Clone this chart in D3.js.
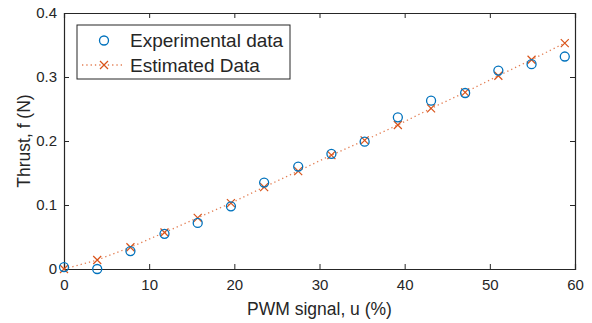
<!DOCTYPE html>
<html>
<head>
<meta charset="utf-8">
<script src="https://cdn.jsdelivr.net/npm/d3@7"></script>
<style>
  body { margin: 0; background: #fff; }
  svg text { font-family: "Liberation Sans", Arial, sans-serif; fill: #262626; }
</style>
</head>
<body>
<div class="chart"></div>
<script>
// data
var pwm = [0, 3.9, 7.8, 11.8, 15.7, 19.6, 23.5, 27.5, 31.4, 35.3, 39.2, 43.1, 47.1, 51.0, 54.9, 58.8];
var experimental = [0.003, 0.0, 0.028, 0.055, 0.072, 0.098, 0.135, 0.160, 0.180, 0.199, 0.237, 0.263, 0.275, 0.310, 0.320, 0.332];
var estimated = [0.0, 0.014, 0.034, 0.057, 0.080, 0.103, 0.128, 0.153, 0.178, 0.201, 0.225, 0.251, 0.276, 0.302, 0.327, 0.353];
var xTicks = [0, 10, 20, 30, 40, 50, 60];
var yTicks = [0, 0.1, 0.2, 0.3, 0.4];

var svgWidth = 592, svgHeight = 323;
var margin = { top: 13, right: 17, bottom: 54, left: 64 };
var width = svgWidth - margin.left - margin.right;
var height = svgHeight - margin.top - margin.bottom;

var axisColor = "#262626";
var blue = "#0072BD";
var orange = "#D95319";

var svg = d3.select(".chart").append("svg")
    .attr("width", svgWidth)
    .attr("height", svgHeight);

var chartGroup = svg.append("g")
    .attr("transform", `translate(${margin.left}, ${margin.top})`);

var xScale = d3.scaleLinear().domain([0, 60]).range([0, width]);
var yScale = d3.scaleLinear().domain([0, 0.4]).range([height, 0]);

// axes (ticks pointing inward, box on)
var bottomAxis = d3.axisBottom(xScale).tickValues(xTicks).tickSize(-5).tickPadding(10).tickFormat(d3.format("d"));
var leftAxis = d3.axisLeft(yScale).tickValues(yTicks).tickSize(-5).tickPadding(7)
    .tickFormat(d => d === 0 ? "0" : d3.format(".1f")(d));
var topAxis = d3.axisTop(xScale).tickValues(xTicks).tickSize(-5).tickFormat("");
var rightAxis = d3.axisRight(yScale).tickValues(yTicks).tickSize(-5).tickFormat("");

function styleAxis(g) {
    g.select(".domain").attr("stroke", axisColor).attr("stroke-width", 1.2);
    g.selectAll(".tick line").attr("stroke", axisColor).attr("stroke-width", 1);
    g.selectAll(".tick text").attr("fill", axisColor).style("font-size", "15px")
        .style("font-family", "'Liberation Sans', Arial, sans-serif");
}

chartGroup.append("g").attr("transform", `translate(0, ${height})`).call(bottomAxis).call(styleAxis);
chartGroup.append("g").call(leftAxis).call(styleAxis);
chartGroup.append("g").call(topAxis).call(styleAxis);
chartGroup.append("g").attr("transform", `translate(${width}, 0)`).call(rightAxis).call(styleAxis);

// estimated data: dotted line with crosses
var line = d3.line()
    .x((d, i) => xScale(pwm[i]))
    .y(d => yScale(d));

chartGroup.append("path")
    .datum(estimated)
    .attr("d", line)
    .attr("fill", "none")
    .attr("stroke", orange)
    .attr("stroke-opacity", 0.75)
    .attr("stroke-width", 1.3)
    .attr("stroke-dasharray", "1.3,3");

var cross = 4;
function drawCross(g, cx, cy) {
    g.append("path")
        .attr("d", `M${cx - cross},${cy - cross}L${cx + cross},${cy + cross}M${cx - cross},${cy + cross}L${cx + cross},${cy - cross}`)
        .attr("stroke", orange)
        .attr("stroke-width", 1.2)
        .attr("fill", "none");
}
estimated.forEach(function (d, i) {
    drawCross(chartGroup, xScale(pwm[i]), yScale(d));
});

// experimental data: open circles
chartGroup.selectAll("circle.exp")
    .data(experimental)
    .enter()
    .append("circle")
    .attr("class", "exp")
    .attr("cx", (d, i) => xScale(pwm[i]))
    .attr("cy", d => yScale(d))
    .attr("r", 4.5)
    .attr("fill", "none")
    .attr("stroke", blue)
    .attr("stroke-width", 1.3);

// axis labels
svg.append("text")
    .attr("x", margin.left + width / 2)
    .attr("y", 315)
    .attr("text-anchor", "middle")
    .style("font-size", "17.5px")
    .text("PWM signal, u (%)");

svg.append("text")
    .attr("transform", `translate(30, ${margin.top + height / 2}) rotate(-90)`)
    .attr("text-anchor", "middle")
    .style("font-size", "17.5px")
    .text("Thrust, f (N)");

// legend
var legend = svg.append("g").attr("transform", "translate(77, 25)");
legend.append("rect")
    .attr("width", 213)
    .attr("height", 54)
    .attr("fill", "#fff")
    .attr("stroke", axisColor)
    .attr("stroke-width", 1);

legend.append("circle")
    .attr("cx", 27).attr("cy", 15.5).attr("r", 4.5)
    .attr("fill", "none").attr("stroke", blue).attr("stroke-width", 1.3);
legend.append("text")
    .attr("x", 53).attr("y", 22)
    .style("font-size", "19px")
    .text("Experimental data");

legend.append("line")
    .attr("x1", 5).attr("x2", 45).attr("y1", 40).attr("y2", 40)
    .attr("stroke", orange).attr("stroke-opacity", 0.75)
    .attr("stroke-width", 1.3).attr("stroke-dasharray", "1.3,3");
drawCross(legend, 27, 40);
legend.append("text")
    .attr("x", 53).attr("y", 47)
    .style("font-size", "19px")
    .text("Estimated Data");
</script>
</body>
</html>
